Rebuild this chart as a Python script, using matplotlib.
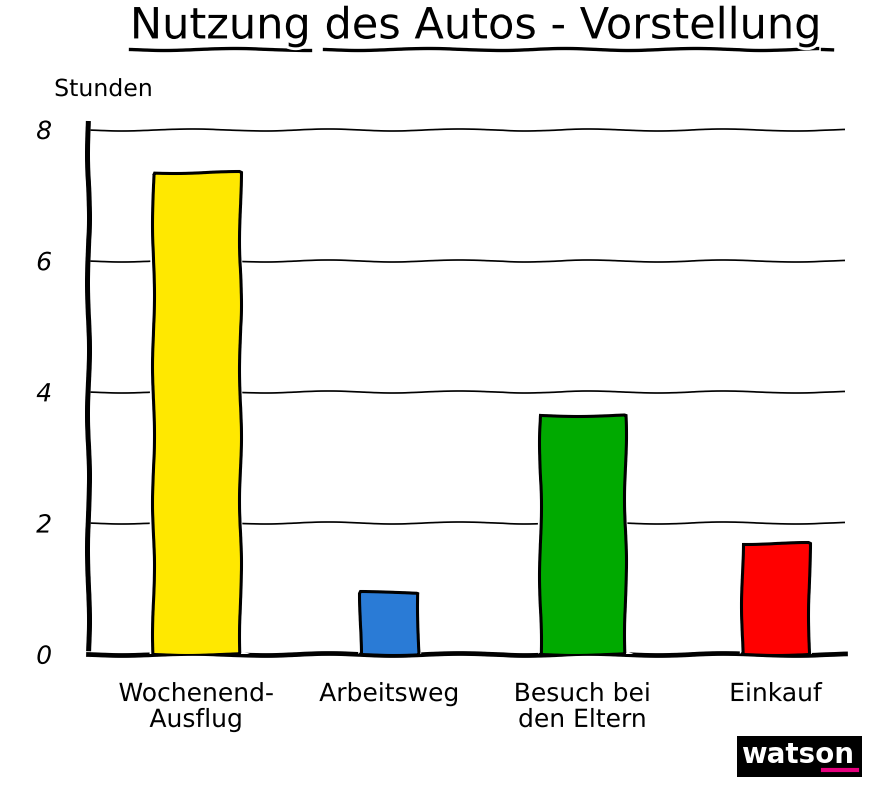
import matplotlib
matplotlib.use("Agg")
import matplotlib.pyplot as plt
from matplotlib.lines import Line2D
from matplotlib.patches import Rectangle

# ── Data ───────────────────────────────────────────────────────────────────────
CATEGORIES = ["Wochenend-\nAusflug", "Arbeitsweg", "Besuch bei\nden Eltern", "Einkauf"]
HOURS = [7.35, 0.95, 3.65, 1.7]
BAR_COLORS = ["#FFE800", "#2A7BD6", "#00AA00", "#FF0000"]
Y_TICKS = [0, 2, 4, 6, 8]
TITLE = "Nutzung des Autos - Vorstellung"
Y_LABEL = "Stunden"

FONT = ["DejaVu Sans"]
TITLE_SIZE = 31

with plt.xkcd(scale=1, length=150, randomness=2):
    plt.rcParams["font.family"] = FONT

    fig = plt.figure(figsize=(8.73, 8.04), dpi=100)
    ax = fig.add_axes([0.101, 0.185, 0.867, 0.669])

    x = list(range(len(CATEGORIES)))
    widths = [0.45, 0.30, 0.44, 0.35]
    ax.bar(x, HOURS, width=widths, color=BAR_COLORS, edgecolor="black",
           linewidth=2.2, zorder=3)

    ax.set_xlim(-0.56, 3.36)
    ax.set_ylim(0, 8.2)
    ax.set_yticks(Y_TICKS)
    ax.set_yticklabels([str(t) for t in Y_TICKS], fontsize=18, fontstyle="italic")
    ax.set_xticks(x)
    ax.set_xticklabels(CATEGORIES, fontsize=18, linespacing=1.1)
    ax.tick_params(axis="y", length=0, pad=26)
    ax.tick_params(axis="x", length=0, pad=20)

    ax.grid(axis="y", color="black", linewidth=1.2)
    ax.grid(axis="x", visible=False)
    ax.set_axisbelow(True)

    for side in ("top", "right"):
        ax.spines[side].set_visible(False)
    ax.spines["left"].set_linewidth(3.6)
    ax.spines["left"].set_bounds(0, 8.1)
    ax.spines["bottom"].set_linewidth(3.4)

    fig.text(0.062, 0.888, Y_LABEL, fontsize=17, ha="left", va="center")

    # title with hand-drawn underline
    title = fig.text(0.544, 0.992, TITLE, fontsize=TITLE_SIZE, ha="center", va="top")
    fig.canvas.draw()
    renderer = fig.canvas.get_renderer()
    tb = title.get_window_extent(renderer)
    probe = fig.text(0, 0, "Nutzung", fontsize=TITLE_SIZE)
    w1 = probe.get_window_extent(renderer).width
    probe_sp = fig.text(0, 0, "Nutzung ", fontsize=TITLE_SIZE)
    w2 = probe_sp.get_window_extent(renderer).width
    probe.remove()
    probe_sp.remove()
    W, H = fig.bbox.width, fig.bbox.height
    uy = (tb.y0 - 2) / H
    fig.add_artist(Line2D([tb.x0 / W, (tb.x0 + w1) / W], [uy, uy],
                          transform=fig.transFigure, color="black", linewidth=2.4))
    fig.add_artist(Line2D([(tb.x0 + w2) / W, (tb.x1 - 2) / W], [uy, uy],
                          transform=fig.transFigure, color="black", linewidth=2.4))
    fig.add_artist(Line2D([(tb.x1 + 2) / W, (tb.x1 + 12) / W], [uy, uy],
                          transform=fig.transFigure, color="black", linewidth=2.4))

    # watson logo
    logo = Rectangle((0.844, 0.032), 0.143, 0.051, transform=fig.transFigure,
                     facecolor="black", edgecolor="none")
    logo.set_sketch_params(None)
    fig.add_artist(logo)
    wt = fig.text(0.914, 0.061, "watson", color="white", fontsize=20,
                  fontweight="bold", ha="center", va="center",
                  family=["DejaVu Sans"])
    wt.set_path_effects([])
    pink = Line2D([0.943, 0.982], [0.041, 0.041], transform=fig.transFigure,
                  color="#E6007E", linewidth=3)
    pink.set_sketch_params(None)
    pink.set_path_effects([])
    fig.add_artist(pink)

    fig.savefig("out.png", dpi=100, facecolor="white")
